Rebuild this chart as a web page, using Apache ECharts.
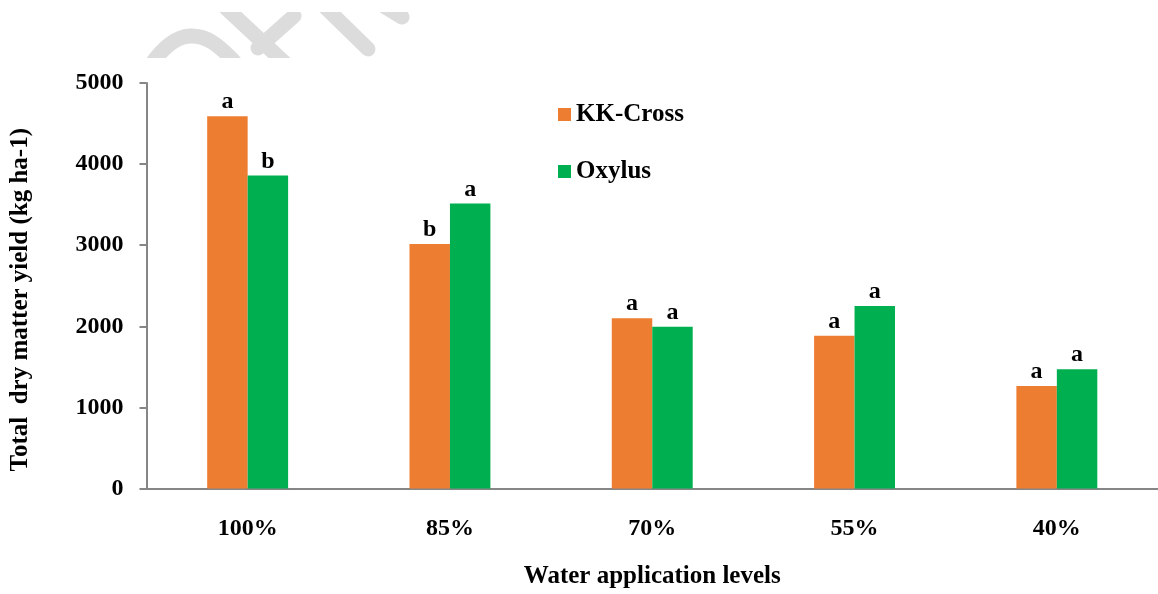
<!DOCTYPE html>
<html>
<head>
<meta charset="utf-8">
<title>Total dry matter yield</title>
<script src="https://cdn.jsdelivr.net/npm/echarts@6/dist/echarts.min.js"></script>
<style>
  html, body { margin: 0; padding: 0; background: #fff; }
  #main { width: 1158px; height: 594px; }
</style>
</head>
<body>
<div id="main"></div>
<script>
// data
var levels = ['100%', '85%', '70%', '55%', '40%'];
var kkCross = [4590, 3015, 2100, 1885, 1265];
var oxylus = [3860, 3515, 1995, 2250, 1470];
var kkLetters = ['a', 'b', 'a', 'a', 'a'];
var oxLetters = ['b', 'a', 'a', 'a', 'a'];
var yTicks = { min: 0, max: 5000, step: 1000 };

var FONT = '"Liberation Serif", "Times New Roman", serif';
var AXIS_GRAY = '#868686';
var MARK_GRAY = '#dcdcdc';

var chart = echarts.init(document.getElementById('main'));

function barSeries(name, values, letters, color) {
	return {
		name: name,
		type: 'bar',
		data: values,
		barWidth: '20%',
		barGap: '0%',
		itemStyle: { color: color },
		label: {
			show: true,
			position: 'top',
			distance: 2,
			color: '#000',
			fontFamily: FONT,
			fontWeight: 'bold',
			fontSize: 24,
			formatter: function (p) { return letters[p.dataIndex]; }
		}
	};
}

// faint watermark strokes cut off at the top of the figure
function stroke(points, smooth) {
	return {
		type: 'polyline',
		z: -10,
		silent: true,
		shape: { points: points, smooth: smooth || 0 },
		style: { stroke: MARK_GRAY, lineWidth: 15, fill: null, lineCap: 'round' }
	};
}
function mask(y, h) {
	return {
		type: 'rect',
		z: -9,
		silent: true,
		shape: { x: 130, y: y, width: 300, height: h },
		style: { fill: '#fff' }
	};
}

var option = {
	animation: false,
	backgroundColor: '#fff',
	grid: { left: 146, top: 83, height: 410, width: 1015 },
	graphic: [
		stroke([[150, 66], [170, 44], [190, 36], [212, 42], [238, 66]], 0.4),
		stroke([[226, 8], [288, 66]]),
		stroke([[294, 16], [258, 48]]),
		stroke([[324, 6], [368, 49]]),
		stroke([[384, 6], [402, 17]]),
		mask(0, 12),
		mask(58, 16)
	],
	legend: {
		orient: 'vertical',
		left: 553,
		top: 97,
		itemWidth: 13,
		itemHeight: 13,
		itemGap: 32,
		icon: 'rect',
		textStyle: { color: '#000', fontFamily: FONT, fontWeight: 'bold', fontSize: 25 },
		data: ['KK-Cross', 'Oxylus']
	},
	xAxis: {
		type: 'category',
		data: levels,
		axisLine: { lineStyle: { color: AXIS_GRAY, width: 2 } },
		axisTick: { show: false },
		axisLabel: { color: '#000', fontFamily: FONT, fontWeight: 'bold', fontSize: 24, margin: 28 },
		name: 'Water application levels',
		nameLocation: 'middle',
		nameGap: 88,
		nameTextStyle: { color: '#000', fontFamily: FONT, fontWeight: 'bold', fontSize: 25, verticalAlign: 'middle' }
	},
	yAxis: {
		type: 'value',
		min: yTicks.min,
		max: yTicks.max,
		interval: yTicks.step,
		axisLine: { show: true, lineStyle: { color: AXIS_GRAY, width: 2 } },
		axisTick: { show: true, length: 7, lineStyle: { color: AXIS_GRAY, width: 2 } },
		splitLine: { show: false },
		axisLabel: {
			color: '#000', fontFamily: FONT, fontWeight: 'bold', fontSize: 24, margin: 23,
			formatter: function (v) { return String(v); }
		},
		name: 'Total  dry matter yield (kg ha-1)',
		nameLocation: 'middle',
		nameGap: 126,
		nameTextStyle: {
			color: '#000', fontFamily: FONT, fontWeight: 'bold', fontSize: 25,
			verticalAlign: 'middle', padding: [0, 28, 0, 0]
		}
	},
	series: [
		barSeries('KK-Cross', kkCross, kkLetters, '#ED7D31'),
		barSeries('Oxylus', oxylus, oxLetters, '#00B050')
	]
};

chart.setOption(option);
</script>
</body>
</html>
